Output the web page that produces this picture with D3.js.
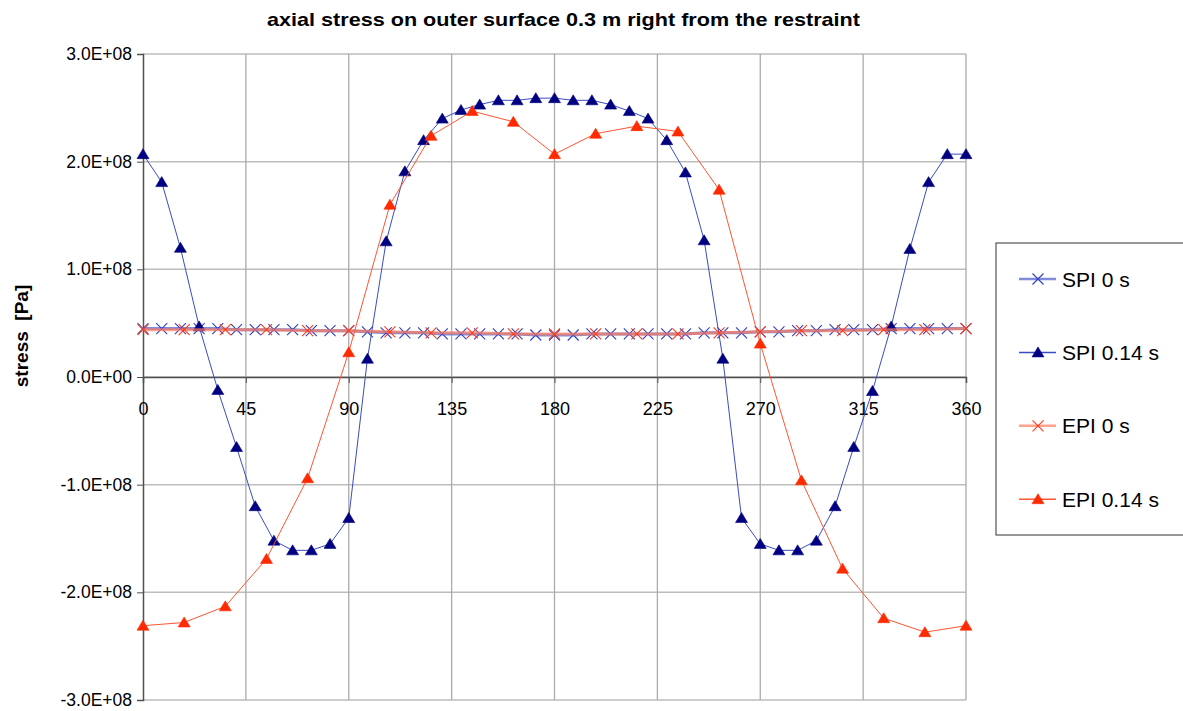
<!DOCTYPE html>
<html><head><meta charset="utf-8">
<script src="https://cdn.jsdelivr.net/npm/d3@7/dist/d3.min.js"></script>
<style>
  html,body{margin:0;background:#fff}
  svg{display:block;font-family:"Liberation Sans",Arial,sans-serif}
</style></head>
<body><div id="chart"></div>
<script>
// axial stress vs angle, four series (values in 1E+08 Pa)
const xTicks = [0,45,90,135,180,225,270,315,360];
const yTicks = [-3e8,-2e8,-1e8,0,1e8,2e8,3e8];
const yTickLabels = ['-3.0E+08','-2.0E+08','-1.0E+08','0.0E+00','1.0E+08','2.0E+08','3.0E+08'];
const seriesNames = ['SPI 0 s','SPI 0.14 s','EPI 0 s','EPI 0.14 s'];

// SPI: 45 stations around the circumference, EPI: 21 stations (every 18°)
const spiCount = 45, epiStep = 18;
const spi0 = [0.45,0.45,0.45,0.45,0.45,0.44,0.44,0.44,0.44,0.43,0.43,0.43,0.42,0.41,0.41,
  0.41,0.40,0.40,0.40,0.40,0.40,0.39,0.39,0.39,0.40,0.40,0.40,0.40,0.40,0.40,
  0.41,0.41,0.41,0.42,0.42,0.43,0.43,0.44,0.44,0.44,0.45,0.45,0.45,0.45,0.45];
const spi014 = [2.07,1.81,1.20,0.47,-0.12,-0.65,-1.20,-1.52,-1.61,-1.61,-1.55,-1.31,0.17,1.26,1.91,
  2.20,2.40,2.48,2.53,2.57,2.57,2.59,2.59,2.57,2.57,2.53,2.47,2.40,2.20,1.90,
  1.27,0.17,-1.31,-1.55,-1.61,-1.61,-1.52,-1.20,-0.65,-0.13,0.47,1.19,1.81,2.07,2.07];
const epi0 = [0.44,0.44,0.44,0.44,0.43,0.43,0.42,0.41,0.41,0.40,0.40,0.40,0.40,0.40,0.41,
  0.42,0.43,0.43,0.44,0.44,0.45];
const epi014 = [-2.31,-2.28,-2.13,-1.69,-0.94,0.23,1.60,2.24,2.47,2.37,2.07,2.26,2.33,2.28,1.74,
  0.31,-0.96,-1.78,-2.24,-2.37,-2.31];

const W = 1183, H = 711;
const svg = d3.select('#chart').append('svg').attr('width',W).attr('height',H);
const x = d3.scaleLinear().domain([0,360]).range([143,966]);
const y = d3.scaleLinear().domain([-3e8,3e8]).range([700,54]);

const spiAng = i => i*360/(spiCount-1), epiAng = i => i*epiStep;
const S = [
  {name:seriesNames[0], pts:spi0.map((v,i)=>[spiAng(i),v*1e8]), line:'#6a78d2', lw:3, op:.85, mk:'x', mc:'#2f3fc4'},
  {name:seriesNames[1], pts:spi014.map((v,i)=>[spiAng(i),v*1e8]), line:'#3b4cc0', lw:1, op:1, mk:'tri', mc:'#000080'},
  {name:seriesNames[2], pts:epi0.map((v,i)=>[epiAng(i),v*1e8]), line:'#ff7a5c', lw:3, op:.7, mk:'x', mc:'#ff3a1a'},
  {name:seriesNames[3], pts:epi014.map((v,i)=>[epiAng(i),v*1e8]), line:'#ff5533', lw:1, op:1, mk:'tri', mc:'#ff2a00'},
];

// gridlines + plot frame
const grid = svg.append('g');
grid.selectAll('.hg').data(yTicks).join('line')
  .attr('x1',x(0)).attr('x2',x(360)).attr('y1',d=>y(d)).attr('y2',d=>y(d))
  .attr('stroke','#bdbdbd').attr('stroke-width',1.5);
grid.selectAll('.vg').data(xTicks.slice(1)).join('line')
  .attr('x1',d=>x(d)).attr('x2',d=>x(d)).attr('y1',y(3e8)).attr('y2',y(-3e8))
  .attr('stroke','#ababab').attr('stroke-width',1.3);

// axes
const ya = svg.append('g').attr('transform',`translate(${x(0)},0)`)
  .call(d3.axisLeft(y).tickValues(yTicks).tickSize(6).tickPadding(5).tickFormat((d,i)=>yTickLabels[i]));
const xa = svg.append('g').attr('transform',`translate(0,${y(0)})`)
  .call(d3.axisBottom(x).tickValues(xTicks).tickSize(6).tickPadding(19).tickFormat(d3.format('d')));
[ya,xa].forEach(a=>{
  a.select('.domain').attr('stroke','#505050').attr('stroke-width',1.5);
  a.selectAll('.tick line').attr('stroke','#505050');
  a.selectAll('text').attr('fill','#000').attr('font-size',18).attr('font-family','"Liberation Sans",Arial,sans-serif');
});
ya.selectAll('text').attr('font-size',17.5);

// markers
const triPath = 'M0,-5.5L6,4.5L-6,4.5Z', xPath = 'M-5.5,-5.5L5.5,5.5M-5.5,5.5L5.5,-5.5';
function marker(g, s){
  return g.append('path').attr('d', s.mk==='tri'?triPath:xPath)
    .attr('fill', s.mk==='tri'?s.mc:'none').attr('stroke', s.mc).attr('stroke-width', s.mk==='tri'?0.6:1.1);
}

const line = d3.line().x(d=>x(d[0])).y(d=>y(d[1]));
S.forEach(s=>{
  const g = svg.append('g');
  g.append('path').attr('d',line(s.pts)).attr('fill','none')
    .attr('stroke',s.line).attr('stroke-width',s.lw).attr('stroke-opacity',s.op);
  s.pts.forEach(p=>marker(g,s).attr('transform',`translate(${x(p[0])},${y(p[1])})`));
});

// title + axis label
svg.append('text').attr('x',563.5).attr('y',26).attr('text-anchor','middle')
  .attr('font-size',19).attr('font-weight','bold')
  .attr('textLength',593).attr('lengthAdjust','spacingAndGlyphs')
  .text('axial stress on outer surface 0.3 m right from the restraint');
svg.append('text').attr('transform','translate(28,336) rotate(-90)').attr('text-anchor','middle')
  .attr('font-size',19).attr('font-weight','bold').attr('xml:space','preserve')
  .text('stress  [Pa]');

// legend
const lg = svg.append('g');
lg.append('rect').attr('x',996).attr('y',243).attr('width',200).attr('height',292)
  .attr('fill','#fff').attr('stroke','#333').attr('stroke-width',1);
S.forEach((s,i)=>{
  const cy = 279 + i*73.4;
  lg.append('line').attr('x1',1019).attr('x2',1056).attr('y1',cy).attr('y2',cy)
    .attr('stroke',s.line).attr('stroke-width',s.lw===3?2.5:1.5).attr('stroke-opacity',s.op);
  marker(lg,s).attr('transform',`translate(1038,${cy})`);
  lg.append('text').attr('x',1062).attr('y',cy+7.5).attr('font-size',21).text(s.name);
});
</script>
</body></html>
